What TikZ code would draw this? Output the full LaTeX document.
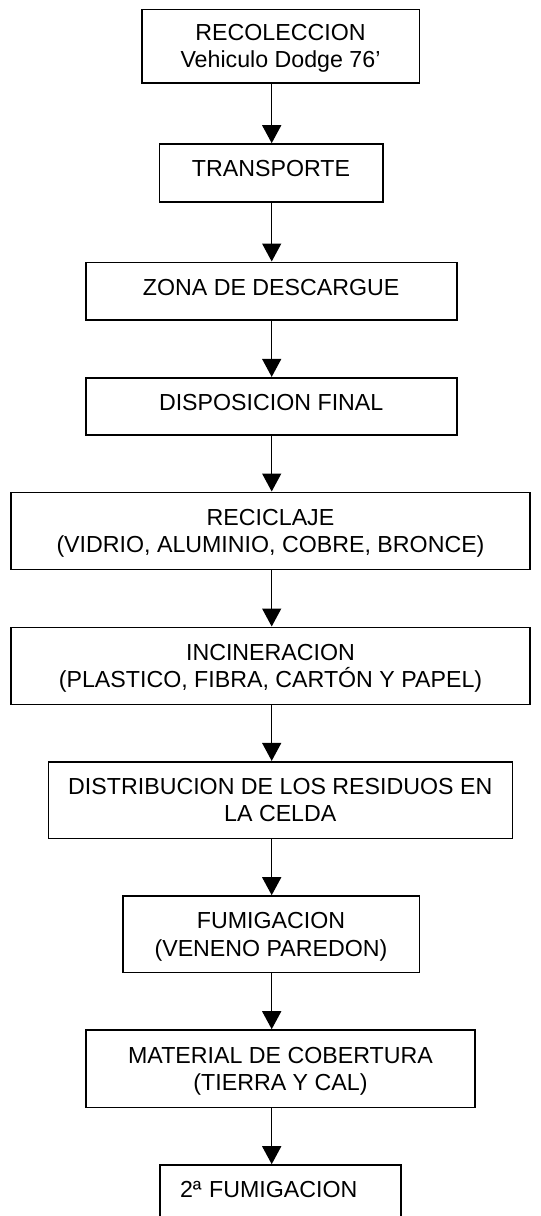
\documentclass[tikz,border=0pt]{standalone}
\usepackage{fontspec}
\setmainfont{Liberation Sans}
\usetikzlibrary{arrows.meta}
\begin{document}
\begin{tikzpicture}[x=1pt,y=-1pt,
  box/.style={draw, line width=1.6pt, rectangle, inner sep=3pt, align=center,
              font=\fontsize{23.2pt}{27.7pt}\selectfont},
  oneline/.style={text depth=8pt},
  twoline/.style={text depth=0pt},
  arr/.style={line width=1.5pt, -{Triangle[width=19pt,length=18pt]}}]
\clip (0,0) rectangle (541,1216);
\fill[white] (0,0) rectangle (541,1216);
\coordinate (axis) at (271.7,0);
\node[box, twoline, minimum width=277.6pt, minimum height=73.4pt] (b1) at (280.5,46) {RECOLECCION\\Vehiculo Dodge 76’};
\node[box, oneline, minimum width=223.4pt, minimum height=57.7pt] (b2) at (271,172.85) {TRANSPORTE};
\node[box, oneline, minimum width=371pt, minimum height=57.7pt] (b3) at (271.2,291.15) {ZONA DE DESCARGUE};
\node[box, oneline, minimum width=371pt, minimum height=57.3pt] (b4) at (271.2,406.35) {DISPOSICION FINAL};
\node[box, twoline, minimum width=519pt, minimum height=77pt] (b5) at (270.5,530.8) {RECICLAJE\\(VIDRIO, ALUMINIO, COBRE, BRONCE)};
\node[box, twoline, minimum width=519pt, minimum height=77pt] (b6) at (270.5,665.8) {INCINERACION\\(PLASTICO, FIBRA, CARTÓN Y PAPEL)};
\node[box, minimum width=464pt, minimum height=76.6pt] (b7) at (280.3,800) {DISTRIBUCION DE LOS RESIDUOS EN\\LA CELDA};
\node[box, twoline, minimum width=296.6pt, minimum height=76.3pt] (b8) at (271,934.15) {FUMIGACION\\(VENENO PAREDON)};
\node[box, twoline, minimum width=389pt, minimum height=77.5pt] (b9) at (280.5,1068.75) {MATERIAL DE COBERTURA\\(TIERRA Y CAL)};
\node[box, oneline, minimum width=241pt, minimum height=57pt, text width=201pt, align=left, inner xsep=20pt] (b10) at (280.5,1193.5) {2ª FUMIGACION};
\foreach \a/\b in {b1/b2,b2/b3,b3/b4,b4/b5,b5/b6,b6/b7,b7/b8,b8/b9,b9/b10}
  \draw[arr] (\a.south -| axis) -- (\b.north -| axis);
\end{tikzpicture}
\end{document}
